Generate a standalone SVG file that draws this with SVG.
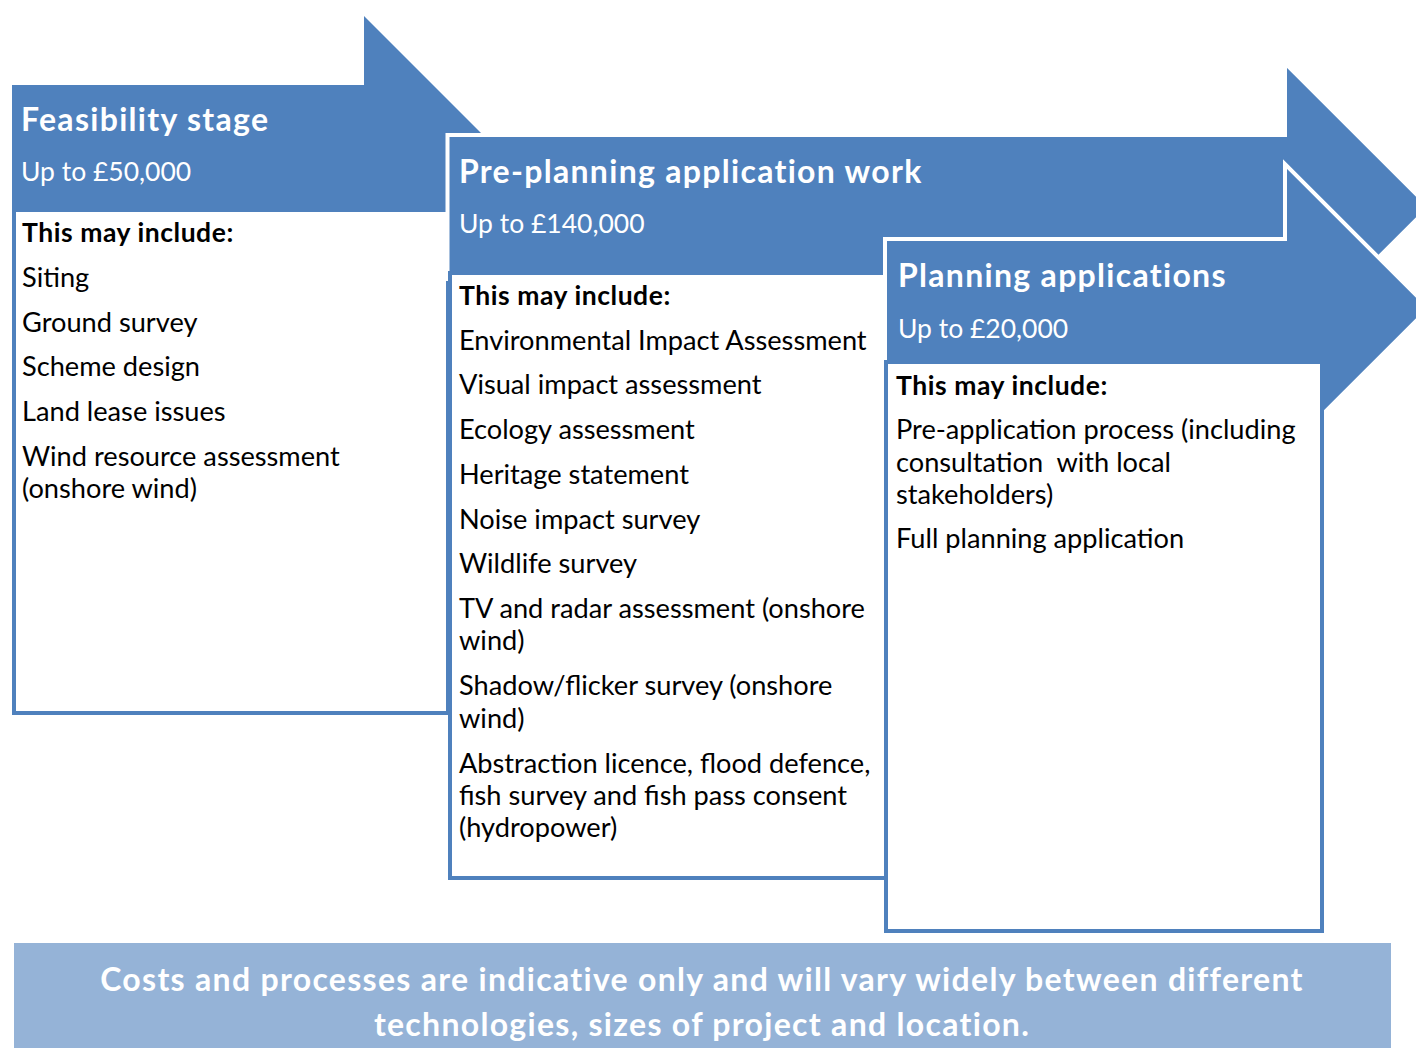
<svg xmlns="http://www.w3.org/2000/svg" width="1416" height="1048" viewBox="0 0 1416 1048">
<style>
.arrow{fill:#4f81bd}
.arrow.ol{stroke:#ffffff;stroke-width:4;stroke-linejoin:miter}
.box{fill:#ffffff;stroke:#4f81bd;stroke-width:4}
text{font-family:Lato,"Liberation Sans",sans-serif}
.title{font-size:32px;font-weight:bold;fill:#ffffff;letter-spacing:1.3px}
.cost{font-size:26.5px;fill:#ffffff}
.hd{font-size:26.5px;font-weight:bold;fill:#000000;letter-spacing:0.55px}
.it{font-size:27.2px;fill:#000000}
.note{font-size:32px;font-weight:bold;fill:#ffffff;text-anchor:middle;letter-spacing:1.3px}
</style>
<rect width="1416" height="1048" fill="#ffffff"/>
<g id="feasibility">
<polygon class="arrow" points="12,85 364,85 364,16 504,156 364,296 364,227 12,227"/>
<rect class="box" x="14" y="210" width="434" height="503"/>
<text class="title" x="21" y="131">Feasibility stage</text>
<text class="cost" x="21" y="181">Up to £50,000</text>
<text class="hd" x="22" y="242">This may include:</text>
<text class="it" x="22" y="287">Siting</text>
<text class="it" x="22" y="332">Ground survey</text>
<text class="it" x="22" y="376">Scheme design</text>
<text class="it" x="22" y="421">Land lease issues</text>
<text class="it" x="22" y="466">Wind resource assessment</text>
<text class="it" x="22" y="498">(onshore wind)</text>
</g>
<g id="pre-planning">
<polygon class="arrow ol" points="447.5,135 1285,135 1285,63 1429,207 1285,351 1285,279 447.5,279"/>
<rect class="box" x="450" y="273" width="436" height="605"/>
<text class="title" x="459" y="183">Pre-planning application work</text>
<text class="cost" x="459" y="233">Up to £140,000</text>
<text class="hd" x="459" y="305">This may include:</text>
<text class="it" x="459" y="350">Environmental Impact Assessment</text>
<text class="it" x="459" y="394">Visual impact assessment</text>
<text class="it" x="459" y="439">Ecology assessment</text>
<text class="it" x="459" y="484">Heritage statement</text>
<text class="it" x="459" y="529">Noise impact survey</text>
<text class="it" x="459" y="573">Wildlife survey</text>
<text class="it" x="459" y="618">TV and radar assessment (onshore</text>
<text class="it" x="459" y="650">wind)</text>
<text class="it" x="459" y="695">Shadow/flicker survey (onshore</text>
<text class="it" x="459" y="728">wind)</text>
<text class="it" x="459" y="773">Abstraction licence, flood defence,</text>
<text class="it" x="459" y="805">fish survey and fish pass consent</text>
<text class="it" x="459" y="837">(hydropower)</text>
</g>
<g id="planning">
<polygon class="arrow ol" points="885,239 1285,239 1285,164 1429,308 1285,452 1285,377 885,377"/>
<rect class="box" x="886" y="362" width="436" height="569"/>
<text class="title" x="898" y="287">Planning applications</text>
<text class="cost" x="898" y="338">Up to £20,000</text>
<text class="hd" x="896" y="395">This may include:</text>
<text class="it" x="896" y="439">Pre-application process (including</text>
<text class="it" x="896" y="472" xml:space="preserve">consultation  with local</text>
<text class="it" x="896" y="504">stakeholders)</text>
<text class="it" x="896" y="548">Full planning application</text>
</g>
<g id="connectors"/>
<g id="note">
<rect x="14" y="943" width="1377" height="105" fill="#95b3d7"/>
<text class="note" x="702" y="991">Costs and processes are indicative only and will vary widely between different</text>
<text class="note" x="702" y="1036">technologies, sizes of project and location.</text>
</g>
</svg>
